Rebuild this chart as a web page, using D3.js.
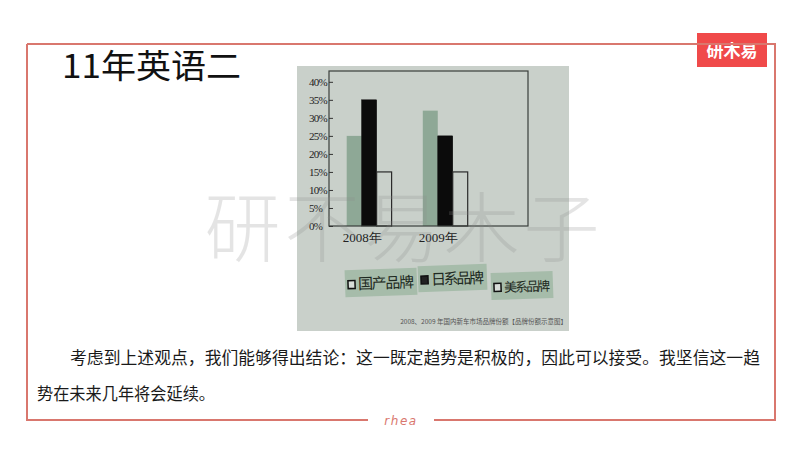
<!DOCTYPE html>
<html><head><meta charset="utf-8">
<script src="https://cdn.jsdelivr.net/npm/d3@7/dist/d3.min.js"></script>
<style>html,body{margin:0;padding:0;background:#fff;}svg{display:block;}</style>
</head><body><svg id="c" width="800" height="450"></svg>
<script>
// ---- data ----
const years = ["2008年", "2009年"];
const brands = ["国产品牌", "日系品牌", "美系品牌"];
const domestic = [25, 32];
const japanese = [35, 25];
const american = [15, 15];
const yTicks = [0, 5, 10, 15, 20, 25, 30, 35, 40];
const title = "11年英语二";
const source = "2008、2009 年国内新车市场品牌份额【品牌份额示意图】";
const para1 = "考虑到上述观点，我们能够得出结论：这一既定趋势是积极的，因此可以接受。我坚信这一趋";
const para2 = "势在未来几年将会延续。";
const watermark = "研不易木子";

const series = [domestic, japanese, american];
const colors = ["#8ea896", "#0b0b0b", "none"];
const cjk = "'Noto Sans CJK SC','Noto Sans',sans-serif";
const serif = "'Liberation Serif','DejaVu Serif',serif";

const svg = d3.select("#c");
const red = "#d9776e";

// logo
svg.append("rect").attr("x", 697).attr("y", 33).attr("width", 70).attr("height", 34).attr("fill", "#f04a4a");
svg.append("text").attr("x", 732).attr("y", 57).attr("text-anchor", "middle")
  .attr("font-family", cjk).attr("font-size", 17).attr("font-weight", "bold").attr("fill", "#fff").text("研木易");
// slide frame
svg.append("path").attr("d", "M27,44 H775 V420 H434 M368,420 H27 V44")
  .attr("fill", "none").attr("stroke", red).attr("stroke-width", 2);
svg.append("text").attr("x", 401).attr("y", 425).attr("text-anchor", "middle")
  .attr("font-family", "'DejaVu Sans',sans-serif").attr("font-style", "italic").attr("font-size", 12)
  .attr("letter-spacing", 1.5).attr("fill", red).text("rhea");

// title
svg.append("text").attr("x", 62).attr("y", 78).attr("font-family", cjk).attr("font-size", 33)
  .attr("fill", "#111").attr("textLength", 179).attr("lengthAdjust", "spacingAndGlyphs").text(title);

// chart picture background
svg.append("rect").attr("x", 297).attr("y", 66).attr("width", 272).attr("height", 265).attr("fill", "#c9d0ca");

const plotL = 329, plotR = 528, plotT = 71, plotB = 226;
const y = d3.scaleLinear().domain([0, 43]).range([plotB, plotT]);
const x0 = d3.scaleBand().domain(years).range([346.7, 467.7]).paddingInner(0.41).paddingOuter(0);
const x1 = d3.scaleBand().domain(brands).range([0, x0.bandwidth()]).padding(0);

// bars
const g = svg.append("g");
years.forEach((yr, i) => {
  brands.forEach((b, j) => {
    const v = series[j][i];
    g.append("rect")
      .attr("x", x0(yr) + x1(b)).attr("y", y(v))
      .attr("width", x1.bandwidth()).attr("height", y(0) - y(v))
      .attr("fill", colors[j])
      .attr("stroke", j === 2 ? "#2a2a2a" : (j === 1 ? "#000" : "none"))
      .attr("stroke-width", j === 2 ? 1.2 : 0.5);
  });
});

// plot box
svg.append("rect").attr("x", plotL).attr("y", plotT).attr("width", plotR - plotL).attr("height", plotB - plotT)
  .attr("fill", "none").attr("stroke", "#3a3f3b").attr("stroke-width", 1.2);

// y axis
const ya = svg.append("g").attr("transform", `translate(${plotL},0)`)
  .call(d3.axisLeft(y).tickValues(yTicks).tickFormat(d => d + "%").tickSize(-4).tickPadding(0));
ya.select(".domain").remove();
ya.selectAll(".tick line").attr("stroke", "#333");
ya.selectAll(".tick text").attr("text-anchor", "start").attr("x", -20)
  .attr("font-family", serif).attr("font-size", 11).attr("fill", "#222")
  .attr("letter-spacing", -0.8);

// x axis labels
const xa = svg.append("g").attr("transform", `translate(0,${plotB})`)
  .call(d3.axisBottom(x0).tickSize(0).tickPadding(7));
xa.select(".domain").remove();
xa.selectAll(".tick text").attr("font-family", serif).attr("font-size", 13).attr("fill", "#222")
  .attr("dx", -7);

// legend
const legBoxes = [[345, 269, 72, 27, -2], [418, 265, 69, 26, -2], [491, 272, 62, 27, -2]];
brands.forEach((b, j) => {
  const [lx, ly, lw, lh, rot] = legBoxes[j];
  const lg = svg.append("g").attr("transform", `rotate(${rot},${lx + lw / 2},${ly + lh / 2})`);
  lg.append("rect").attr("x", lx).attr("y", ly).attr("width", lw).attr("height", lh).attr("fill", "#a6bcaa");
  lg.append("rect").attr("x", lx + 3).attr("y", ly + lh / 2 - 3).attr("width", 7).attr("height", 8)
    .attr("fill", j === 1 ? "#222" : "#d8ddd8").attr("stroke", "#111").attr("stroke-width", 1.5);
  lg.append("text").attr("x", lx + 13).attr("y", ly + lh / 2 + 6)
    .attr("font-family", cjk).attr("font-size", j === 2 ? 13 : 15).attr("fill", "#1e2a22")
    .attr("textLength", lw - 16).text(b);
});

// source
svg.append("text").attr("x", 567).attr("y", 324).attr("text-anchor", "end")
  .attr("font-family", cjk).attr("font-size", 6.5).attr("fill", "#555").text(source);

// paragraph
svg.append("text").attr("x", 70).attr("y", 364).attr("font-family", cjk).attr("font-size", 16.5)
  .attr("fill", "#1a1a1a").attr("textLength", 690).attr("lengthAdjust", "spacingAndGlyphs").text(para1);
svg.append("text").attr("x", 37).attr("y", 400).attr("font-family", cjk).attr("font-size", 16.5)
  .attr("fill", "#1a1a1a").attr("textLength", 178).attr("lengthAdjust", "spacingAndGlyphs").text(para2);

// watermark
svg.append("text").attr("x", 402).attr("y", 256).attr("text-anchor", "middle")
  .attr("font-family", cjk).attr("font-weight", 300).attr("font-size", 76)
  .attr("fill", "#8a8a8a").attr("opacity", 0.22).attr("textLength", 395).text(watermark);
</script></body></html>
